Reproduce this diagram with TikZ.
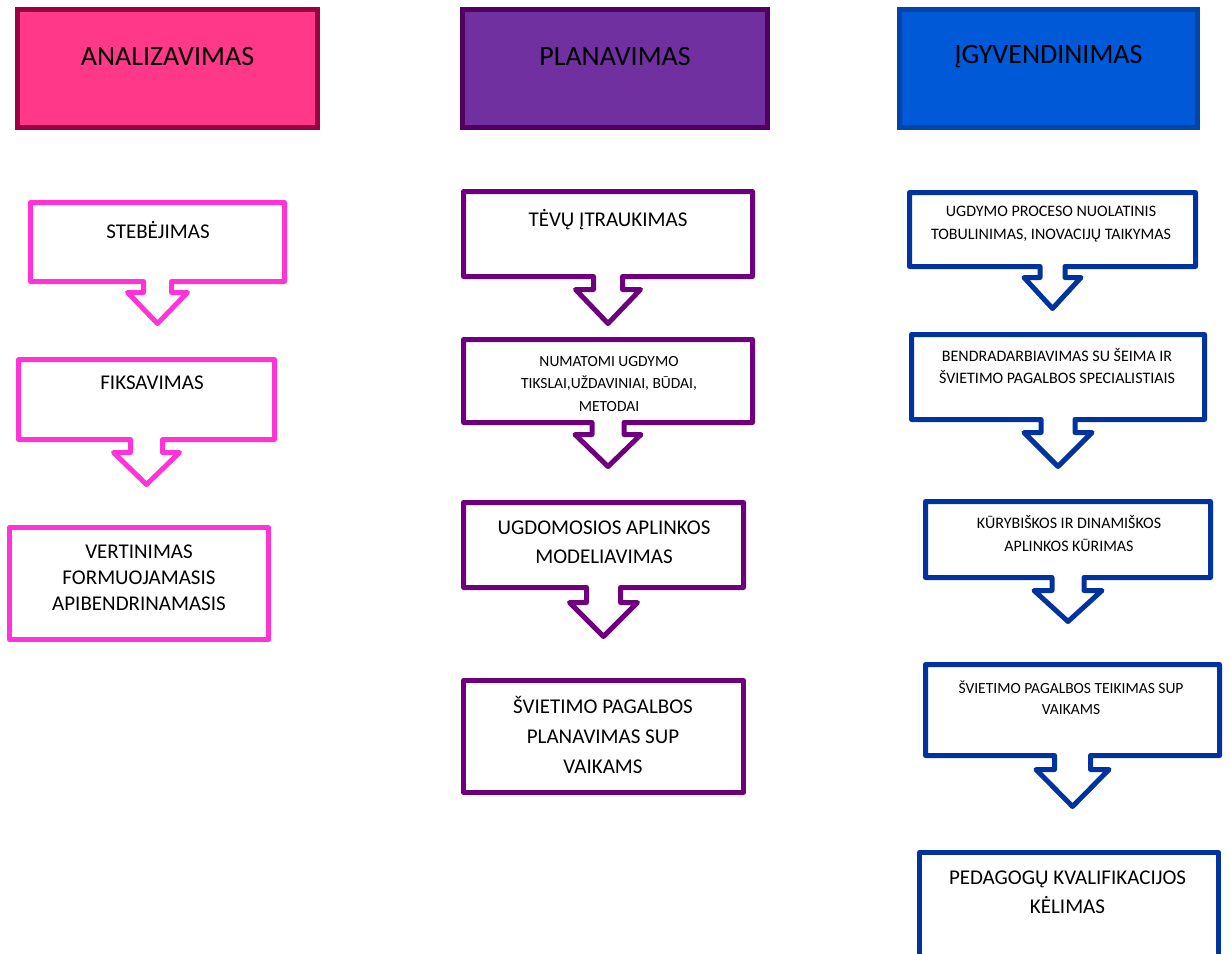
\documentclass[tikz,border=0pt]{standalone}
\usepackage{fontspec}
\setmainfont{Carlito}
\usetikzlibrary{shapes,calc}
\definecolor{pinkfill}{HTML}{FF3889}
\definecolor{pinkedge}{HTML}{9B0041}
\definecolor{pinkline}{HTML}{FF33D6}
\definecolor{purplefill}{HTML}{7030A0}
\definecolor{purpleedge}{HTML}{4F0061}
\definecolor{purpleline}{HTML}{6E007E}
\definecolor{bluefill}{HTML}{0059D6}
\definecolor{blueedge}{HTML}{0046A8}
\definecolor{blueline}{HTML}{0033A0}

\begin{document}
\begin{tikzpicture}[x=1pt,y=-1pt,
  header/.style={rectangle,line width=5pt,minimum width=300pt,minimum height=118pt,inner sep=0pt,outer sep=0pt},
  box/.style={rectangle,inner sep=0pt,outer sep=0pt},
  outline/.style={line width=5pt,line join=round},
  headtext/.style={inner sep=0pt,font=\fontsize{28}{34}\selectfont},
  bigtext/.style={align=center,inner sep=0pt,font=\fontsize{21}{29}\selectfont},
  smalltext/.style={align=center,inner sep=0pt,font=\fontsize{15.5}{22.5}\selectfont}]
\useasboundingbox (0,0) rectangle (1230,953);
\clip (0,0) rectangle (1230,953);

\node[header,fill=pinkfill,draw=pinkedge] (Analiz) at (167.5,68.5) {};
\node[header,fill=purplefill,draw=purpleedge,minimum width=305pt] (Plan) at (615,68.5) {};
\node[header,fill=bluefill,draw=blueedge,minimum width=298pt] (Igyv) at (1048.5,68.5) {};
\node[headtext] (AnalizT) at (167.5,57) {ANALIZAVIMAS};
\node[headtext] (PlanT) at (615,57) {PLANAVIMAS};
\node[headtext] (IgyvT) at (1048.5,57) {ĮGYVENDINIMAS};

\node[box,minimum width=254pt,minimum height=79pt] (Steb) at (157.5,242) {};
\node[box,minimum width=256pt,minimum height=80pt] (Fiks) at (146.5,399.5) {};
\node[box,outline,draw=pinkline,minimum width=259pt,minimum height=112pt] (Vert) at (139,583.5) {};

\node[box,minimum width=289pt,minimum height=85pt] (Tevu) at (608,234) {};
\node[box,minimum width=289pt,minimum height=83pt] (Numat) at (608,381) {};
\node[box,minimum width=280pt,minimum height=85pt] (Ugdom) at (603.5,545) {};
\node[box,outline,draw=purpleline,minimum width=280pt,minimum height=112pt] (Sviet) at (603.5,736.5) {};

\node[box,minimum width=286pt,minimum height=74pt] (Ugdym) at (1052.5,229.5) {};
\node[box,minimum width=293pt,minimum height=85pt] (Bendr) at (1058,377) {};
\node[box,minimum width=285pt,minimum height=76pt] (Kuryb) at (1068,539.5) {};
\node[box,minimum width=294pt,minimum height=91pt] (Teik) at (1072.5,710) {};
\node[box,outline,draw=blueline,minimum width=299pt,minimum height=147pt] (Pedag) at (1069,926) {};

\foreach \b/\c/\s/\h/\n/\d in {Steb/pinkline/14/30/11/42, Fiks/pinkline/16/33/13/45,
  Tevu/purpleline/14.5/32.5/13/47, Numat/purpleline/16/33/12/44, Ugdom/purpleline/17/34/15/49,
  Ugdym/blueline/12.5/28.5/11/42, Bendr/blueline/17/34/13/47, Kuryb/blueline/16/34/13/44, Teik/blueline/18/36.5/14/51} {
  \draw[outline,draw=\c] (\b.south west) -- (\b.north west) -- (\b.north east) -- (\b.south east)
    -- ($(\b.south)+(\s,0)$) -- ($(\b.south)+(\s,\n)$) -- ($(\b.south)+(\h,\n)$) -- ($(\b.south)+(0,\d)$)
    -- ($(\b.south)+(-\h,\n)$) -- ($(\b.south)+(-\s,\n)$) -- ($(\b.south)+(-\s,0)$) -- cycle;
}

\node[bigtext] (StebT) at (158,230) {STEBĖJIMAS};
\node[bigtext] (FiksT) at (152,383) {FIKSAVIMAS};
\node[bigtext,font=\fontsize{21}{26}\selectfont] (VertT) at (139,578) {VERTINIMAS\\FORMUOJAMASIS\\APIBENDRINAMASIS};

\node[bigtext] (TevuT) at (608,220) {TĖVŲ ĮTRAUKIMAS};
\node[smalltext] (NumatT) at (609,384) {NUMATOMI UGDYMO\\TIKSLAI,UŽDAVINIAI, BŪDAI,\\METODAI};
\node[bigtext] (UgdomT) at (604,542.5) {UGDOMOSIOS APLINKOS\\MODELIAVIMAS};
\node[bigtext,font=\fontsize{21}{30}\selectfont] (SvietT) at (603,735) {ŠVIETIMO PAGALBOS\\PLANAVIMAS SUP\\VAIKAMS};

\node[smalltext,font=\fontsize{16}{23}\selectfont] (UgdymT) at (1051,224.5) {UGDYMO PROCESO NUOLATINIS\\TOBULINIMAS, INOVACIJŲ TAIKYMAS};
\node[smalltext,font=\fontsize{16}{22}\selectfont] (BendrT) at (1057,366) {BENDRADARBIAVIMAS SU ŠEIMA IR\\ŠVIETIMO PAGALBOS SPECIALISTIAIS};
\node[smalltext,font=\fontsize{16}{23}\selectfont] (KurybT) at (1069,533.5) {KŪRYBIŠKOS IR DINAMIŠKOS\\APLINKOS KŪRIMAS};
\node[smalltext,font=\fontsize{15.5}{21}\selectfont] (TeikT) at (1071,697.5) {ŠVIETIMO PAGALBOS TEIKIMAS SUP\\VAIKAMS};
\node[bigtext] (PedagT) at (1067.5,892.5) {PEDAGOGŲ KVALIFIKACIJOS\\KĖLIMAS};
\end{tikzpicture}
\end{document}
